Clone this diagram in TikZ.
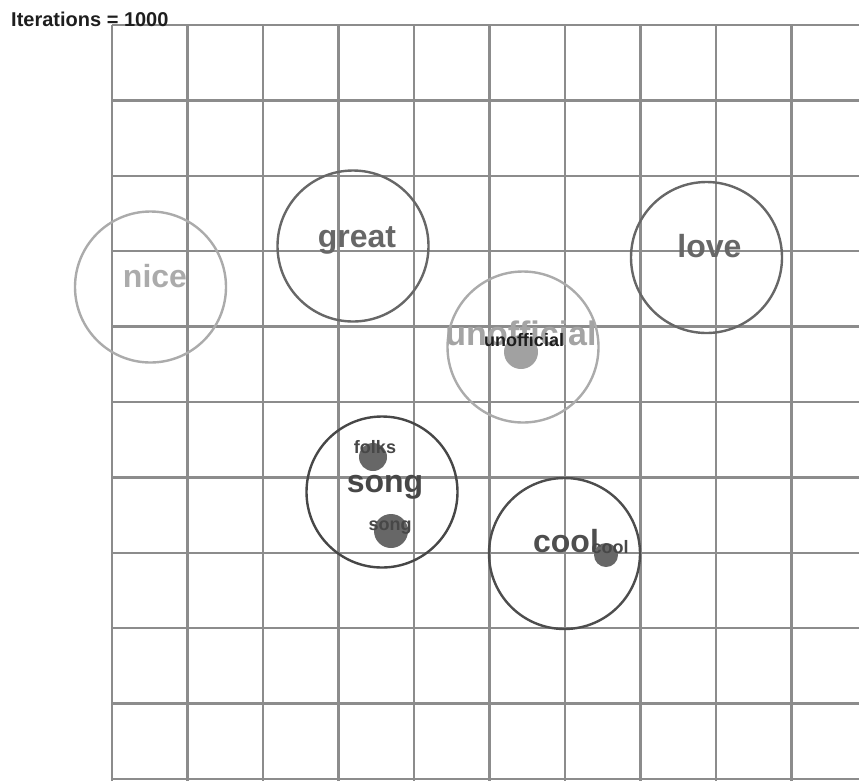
\documentclass[tikz,border=0pt]{standalone}
\usepackage{fontspec}
\setmainfont{Liberation Sans}
\usepackage{xcolor}
\usepackage{tikz}
\usetikzlibrary{positioning}
\definecolor{C_GRID} {HTML}{8C8C8C}
\definecolor{C_PALE} {HTML}{ABABAB}
\definecolor{C_MID}  {HTML}{676767}
\definecolor{C_DARK} {HTML}{474747}
\definecolor{C_INK}  {HTML}{1E1E1E}
\tikzset{
  %% -- background grid lines --
  WM/grid/.style={line width=2.4pt, color=C_GRID},
  %% -- ring around a word cluster --
  WM/ring/.style={
    draw, circle, line width=2.4pt,
    minimum size=151pt, inner sep=0pt
  },
  %% -- large word of a cluster --
  WM/word/.style={
    anchor=base, inner sep=0pt,
    font=\fontsize{32}{36}\selectfont\bfseries
  },
  %% -- member point --
  WM/dot/.style={circle, inner sep=0pt},
  %% -- member label --
  WM/tag/.style={
    anchor=base, inner sep=0pt, color=C_INK!85!C_DARK,
    font=\fontsize{18}{20}\selectfont\bfseries
  },
}

\begin{document}
\begin{tikzpicture}[x=1pt, y=-1pt]
\useasboundingbox (0,0) rectangle (859,780);

%% Grid
\foreach \k in {0,...,9}
  \draw[WM/grid] (112+75.5*\k, 25) -- (112+75.5*\k, 781);
\foreach \k in {0,...,10}
  \draw[WM/grid] (112, 25+75.4*\k) -- (860, 25+75.4*\k);

%% Title
\node[anchor=base west, inner sep=0pt, color=C_INK,
  font=\fontsize{20}{22}\selectfont\bfseries]
  (title) at (11, 26) {Iterations = 1000};

%% Rings
\node[WM/ring, draw=C_PALE] (nice)  at (150.5, 287) {};
\node[WM/ring, draw=C_MID]  (great) at (353, 246) {};
\node[WM/ring, draw=C_MID]  (love)  at (706.5, 257.5) {};
\node[WM/ring, draw=C_PALE] (unof)  at (523, 347) {};
\node[WM/ring, draw=C_DARK] (song)  at (382, 492) {};
\node[WM/ring, draw=C_DARK!80!C_MID] (cool) at (564.5, 553.5) {};

%% Words
\node[WM/word, color=C_PALE] (niceW)  at (155, 287) {nice};
\node[WM/word, color=C_MID]  (greatW) at (357, 247) {great};
\node[WM/word, color=C_MID]  (loveW)  at (709.5, 257) {love};
\node[WM/word, color=C_PALE!90!C_MID,
  font=\fontsize{34}{38}\selectfont\bfseries]
  (unofW) at (521, 345) {unofficial};
\node[WM/word, color=C_DARK] (songW)  at (385, 492) {song};
\node[WM/word, color=C_DARK!80!C_MID] (coolW) at (566, 552) {cool};

%% Member points
\node[WM/dot, fill=C_PALE!85!C_MID, minimum size=34pt] (unofP) at (521, 352) {};
\node[WM/dot, fill=C_MID, minimum size=28pt]  (folksP) at (373, 457) {};
\node[WM/dot, fill=C_MID, minimum size=34pt]  (songP)  at (391, 531) {};
\node[WM/dot, fill=C_MID, minimum size=24pt]  (coolP)  at (606, 555) {};

%% Member labels
\node[WM/tag, color=C_INK]  (unofT)  at (524, 346) {unofficial};
\node[WM/tag, color=C_DARK] (folksT) at (375, 453) {folks};
\node[WM/tag, color=C_DARK] (songT)  at (390, 530) {song};
\node[WM/tag, color=C_DARK] (coolT)  at (610, 553) {cool};
\end{tikzpicture}
\end{document}
